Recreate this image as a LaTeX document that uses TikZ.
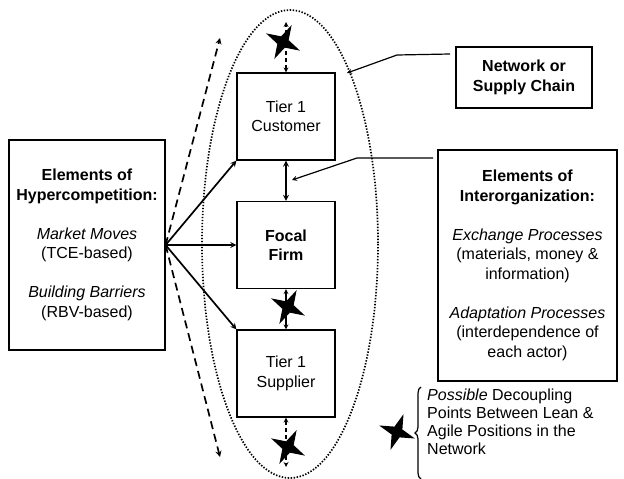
\documentclass[tikz,border=0pt]{standalone}
\usepackage{fontspec}
\setmainfont{Liberation Sans}
\usetikzlibrary{arrows,shapes.geometric,decorations.pathreplacing}

\begin{document}
\begin{tikzpicture}[x=1pt, y=-1pt, >=stealth,
  box/.style={draw, line width=1.2pt, align=center, inner sep=0pt, font=\fontsize{16}{19.5}\selectfont},
  bold box/.style={box, font=\bfseries\fontsize{16}{19.5}\selectfont},
  tier node/.style={box, minimum width=98pt, minimum height=87pt},
  link/.style={line width=1.7pt},
  thin link/.style={line width=1.2pt},
  dash link/.style={line width=1.7pt, dash pattern=on 8pt off 5pt},
  point star/.style={star, star points=4, star point ratio=3.2, fill=black, draw=none, minimum size=38pt, inner sep=0pt, rotate=-27}]

\useasboundingbox (0,0) rectangle (624,479);

% network boundary
\draw[line width=1.7pt, dash pattern=on 1.4pt off 1.6pt] (290,244) ellipse [x radius=88, y radius=234];

% actors in the chain
\node[tier node] (customer) at (286,116.5) {Tier 1\\Customer};
\node[tier node, bold box] (focal) at (286,245) {Focal\\Firm};
\node[tier node] (supplier) at (286,373.5) {Tier 1\\Supplier};

\node[box, minimum width=156pt, minimum height=210pt] (hyper) at (87,245)
  {\textbf{Elements of}\\\textbf{Hypercompetition:}\\[19.5pt]\textit{Market Moves}\\(TCE-based)\\[19.5pt]\textit{Building Barriers}\\(RBV-based)};
\node[box, minimum width=179pt, minimum height=231pt] (inter) at (527.5,265.5)
  {\textbf{Elements of}\\\textbf{Interorganization:}\\[19.5pt]\textit{Exchange Processes}\\(materials, money \&\\information)\\[19.5pt]\textit{Adaptation Processes}\\(interdependence of\\each actor)};
\node[bold box, minimum width=136pt, minimum height=61pt] (network) at (524,77.5) {Network or\\Supply Chain};

% hypercompetition links
\coordinate (moves up) at (220,38);
\coordinate (moves down) at (220,457);
\draw[->, link] (hyper.east) -- (customer.south west);
\draw[->, link] (hyper.east) -- (focal.west);
\draw[->, link] (hyper.east) -- (supplier.north west);
\draw[->, dash link] (hyper.east) -- (moves up);
\draw[->, dash link] (hyper.east) -- (moves down);

% flows between tiers
\coordinate (top end) at (286,22);
\coordinate (bottom end) at (286,467);
\draw[<->, link] (customer.south) -- (focal.north);
\draw[<->, thin link] (focal.south) -- (supplier.north);
\draw[<->, thin link, dash pattern=on 4pt off 3pt] (customer.north) -- (top end);
\draw[<->, thin link, dash pattern=on 4pt off 3pt] (supplier.south) -- (bottom end);
\node[point star] (star top) at (283,42) {};
\node[point star] (star mid) at (288,307) {};
\node[point star] (star bottom) at (288,447) {};

% callouts
\coordinate (net tail) at (450,54);
\coordinate (net knee) at (397,55);
\coordinate (net tip) at (347,73);
\draw[->, thin link] (net tail) -- (net knee) -- (net tip);
\coordinate (inter tail) at (433,158);
\coordinate (inter knee) at (357,158);
\coordinate (inter tip) at (292,180);
\draw[->, thin link] (inter tail) -- (inter knee) -- (inter tip);

% key
\node[point star, rotate=7] (key star) at (397,432) {};
\draw[decorate, decoration={brace, amplitude=6pt}, line width=1.2pt] (421,479) -- (421,387);
\node[anchor=west, align=left, inner sep=0pt, font=\fontsize{16}{18}\selectfont] (key text) at (427,422)
  {\textit{Possible} Decoupling\\Points Between Lean \&\\Agile Positions in the\\Network};
\end{tikzpicture}
\end{document}
